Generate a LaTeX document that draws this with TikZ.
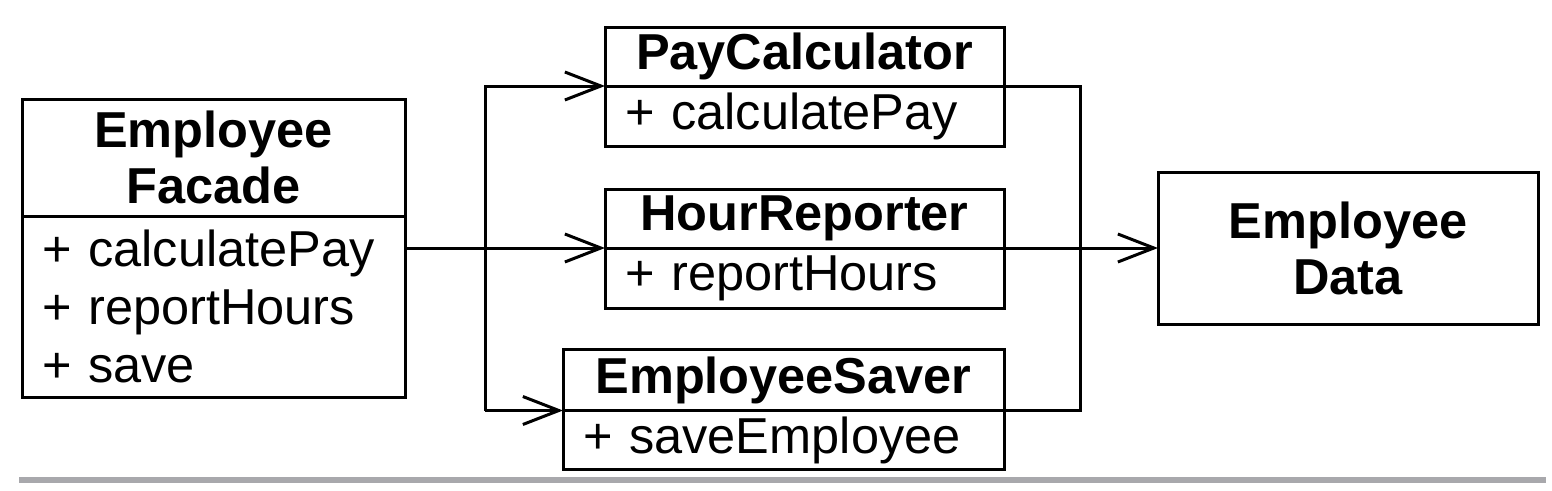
\documentclass[tikz,border=0pt]{standalone}
\usepackage{fontspec}
\setmainfont{Liberation Sans}
\usetikzlibrary{positioning,arrows.meta}

\definecolor{rulegray}{RGB}{168,168,172}

\tikzset{
  clshead/.style={draw, line width=3pt, inner sep=0pt, outer sep=0pt, align=center,
    font=\fontsize{50.5}{56}\selectfont\bfseries},
  clsbody/.style={draw, line width=3pt, inner xsep=20pt, inner ysep=0pt, outer sep=0pt,
    align=left, font=\fontsize{50.5}{58}\selectfont},
  uses/.style={line width=3pt, -{Straight Barb[length=36pt,width=28pt,line width=3pt]}}
}

\begin{document}
\begin{tikzpicture}[x=1pt,y=-1pt]

	\useasboundingbox (0,0) rectangle (1552,490);

	% the facade class on the left
	\node[clshead, minimum width=383pt, minimum height=117pt] (fh) at (213.5,157.5) {Employee\\Facade};
	\node[clsbody, text width=343pt, minimum height=181pt, below=0pt of fh] (fb)
	  {+ calculatePay\\+ reportHours\\+ save};

	% the three classes in the middle
	\node[clshead, minimum width=399pt, minimum height=59pt] (pch) at (804.5,56.5) {PayCalculator};
	\node[clsbody, text width=359pt, minimum height=60pt, below=0pt of pch] (pcb) {+ calculatePay};

	\node[clshead, minimum width=399pt, minimum height=59pt] (hrh) at (804.5,218.5) {HourReporter};
	\node[clsbody, text width=359pt, minimum height=60pt, below=0pt of hrh] (hrb) {+ reportHours};

	\node[clshead, minimum width=441pt, minimum height=61pt] (esh) at (783.5,380) {EmployeeSaver};
	\node[clsbody, text width=401pt, minimum height=59pt, below=0pt of esh] (esb) {+ saveEmployee};

	% the shared data on the right
	\node[clshead, minimum width=380pt, minimum height=152pt] (ed) at (1348,248) {Employee\\Data};

	% the two vertical buses
	\coordinate (lbus) at (485,0);
	\coordinate (rbus) at (1080,0);

	% facade to the three classes
	\draw[uses] (fb.east |- hrb.north west) -- (hrb.north west);
	\draw[uses] (lbus |- esb.north west) -- (lbus |- pcb.north west) -- (pcb.north west);
	\draw[uses] (lbus |- esb.north west) -- (esb.north west);

	% the three classes to the data
	\draw[line width=3pt] (pcb.north east) -- (rbus |- pcb.north east) -- (rbus |- esb.north east) -- (esb.north east);
	\draw[uses] (hrb.north east) -- (ed.west |- hrb.north east);

	% grey rule at the bottom
	\fill[rulegray] (19,477) rectangle (1546,483);

\end{tikzpicture}
\end{document}
